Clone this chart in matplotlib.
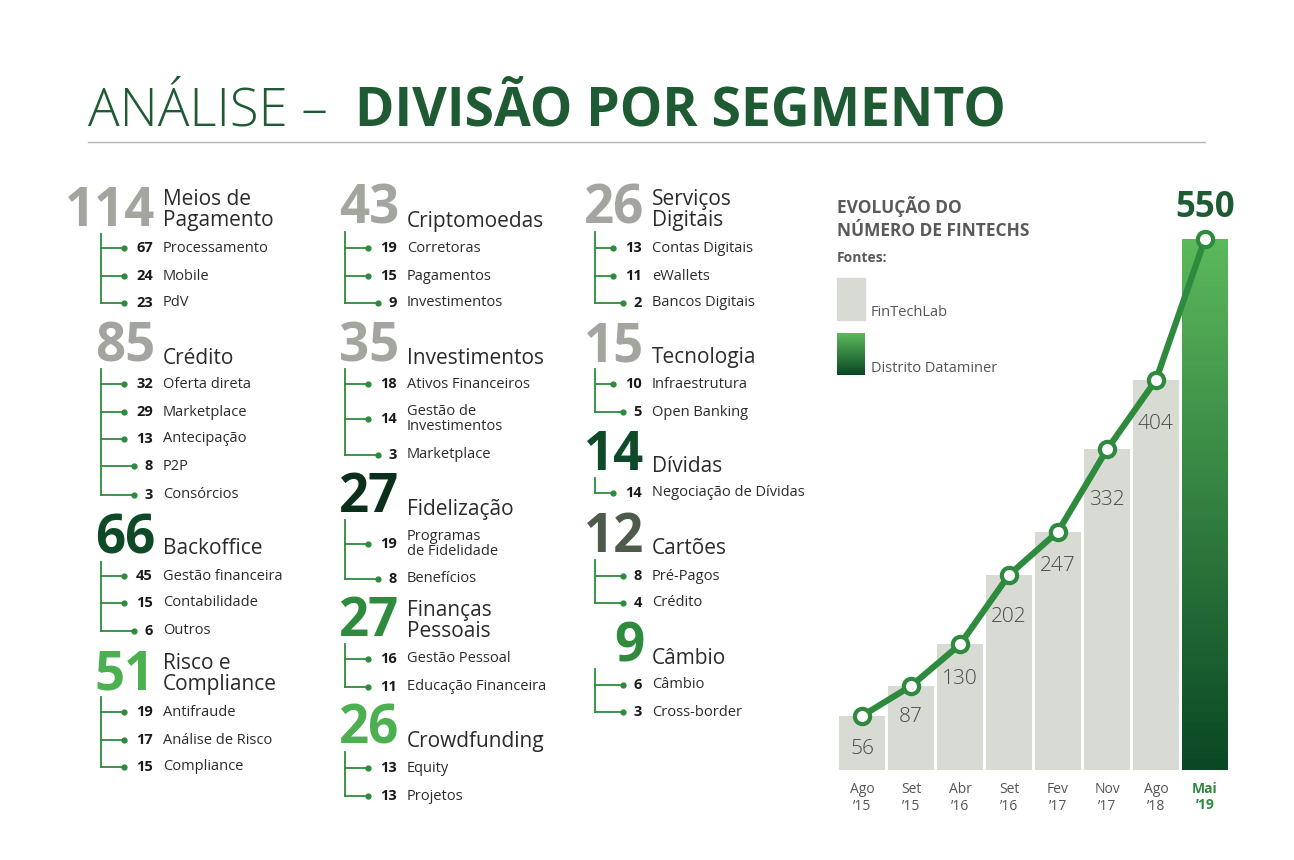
import numpy as np
import matplotlib.pyplot as plt
from matplotlib.colors import LinearSegmentedColormap
from matplotlib.patches import Rectangle

plt.rcParams['font.family'] = 'Open Sans'

# ---- data ----
periods = ["Ago\n\u201915", "Set\n\u201915", "Abr\n\u201916", "Set\n\u201916",
           "Fev\n\u201917", "Nov\n\u201917", "Ago\n\u201918", "Mai\n\u201919"]
fintechs = [56, 87, 130, 202, 247, 332, 404, 550]

seg_totals = [114, 85, 66, 51, 43, 35, 27, 27, 26, 26, 15, 14, 12, 9]
seg_titles = ["Meios de\nPagamento", "Crédito", "Backoffice", "Risco e\nCompliance",
              "Criptomoedas", "Investimentos", "Fidelização", "Finanças\nPessoais",
              "Crowdfunding", "Serviços\nDigitais", "Tecnologia", "Dívidas",
              "Cartões", "Câmbio"]
seg_items = [
    [(67, "Processamento"), (24, "Mobile"), (23, "PdV")],
    [(32, "Oferta direta"), (29, "Marketplace"), (13, "Antecipação"), (8, "P2P"), (3, "Consórcios")],
    [(45, "Gestão financeira"), (15, "Contabilidade"), (6, "Outros")],
    [(19, "Antifraude"), (17, "Análise de Risco"), (15, "Compliance")],
    [(19, "Corretoras"), (15, "Pagamentos"), (9, "Investimentos")],
    [(18, "Ativos Financeiros"), (14, "Gestão de\nInvestimentos"), (3, "Marketplace")],
    [(19, "Programas\nde Fidelidade"), (8, "Benefícios")],
    [(16, "Gestão Pessoal"), (11, "Educação Financeira")],
    [(13, "Equity"), (13, "Projetos")],
    [(13, "Contas Digitais"), (11, "eWallets"), (2, "Bancos Digitais")],
    [(10, "Infraestrutura"), (5, "Open Banking")],
    [(14, "Negociação de Dívidas")],
    [(8, "Pré-Pagos"), (4, "Crédito")],
    [(6, "Câmbio"), (3, "Cross-border")],
]

GRAY_N, DARK, MID, LIGHT, OLIVE = '#a3a69f', '#0f4a28', '#2e8b3e', '#4cb050', '#4e5a4a'
num_colors = [GRAY_N, GRAY_N, DARK, LIGHT, GRAY_N, GRAY_N, '#0c2f1c', MID, LIGHT,
              GRAY_N, GRAY_N, DARK, OLIVE, MID]

# layout: column (tree x, number right edge), number y, title y, item ys
cols = {0: (101, 153), 1: (345, 397), 2: (595, 642)}
layout = [
    (0, 212, 210, [248, 276, 303]),
    (0, 347, 358, [384, 412, 439, 466, 495]),
    (0, 540, 549, [576, 603, 631]),
    (0, 675, 674, [712, 740, 767]),
    (1, 210, 222, [248, 276, 303]),
    (1, 347, 358, [384, 419, 455]),
    (1, 498, 510, [544, 579]),
    (1, 622, 621, [659, 687]),
    (1, 730, 742, [768, 796]),
    (2, 210, 210, [248, 276, 303]),
    (2, 347, 358, [384, 412]),
    (2, 456, 467, [493]),
    (2, 538, 549, [576, 603]),
    (2, 647, 658, [685, 712]),
]
label_drop = [34, 32, 36, 44, 36, 52, 46]

fig = plt.figure(figsize=(12.94, 8.6), dpi=100)
bg = fig.add_axes([0, 0, 1, 1])
bg.set_xlim(0, 1294)
bg.set_ylim(860, 0)
bg.axis('off')

TXT = '#2b2b2b'
bg.text(88, 125, "ANÁLISE –", fontsize=38, color='#1e5a32', fontweight='light', va='baseline')
bg.text(355, 125, "DIVISÃO POR SEGMENTO", fontsize=38.5, color='#1e5a32',
        fontweight='bold', va='baseline')
bg.plot([88, 1205], [142, 142], color='#b5b5b5', lw=1)

for k, (c, ny, ty, iys) in enumerate(layout):
    tx, nx = cols[c]
    bg.text(nx + 2, ny, str(seg_totals[k]), fontsize=38, fontweight='bold',
            color=num_colors[k], ha='right', va='center')
    bg.text(nx + 10, ty, seg_titles[k], fontsize=15, color=TXT, va='center',
            linespacing=1.05)
    bg.plot([tx, tx], [ny + 22, iys[-1]], color=MID, lw=1.3)
    for (v, lab), iy in zip(seg_items[k], iys):
        dx = nx - 10 - 9.5 * len(str(v))
        bg.plot([tx, dx], [iy, iy], color=MID, lw=1.3)
        bg.plot(dx, iy, 'o', color=MID, ms=3.5)
        bg.text(nx, iy, str(v), fontsize=10.5, fontweight='bold', color='#1a1a1a',
                ha='right', va='center')
        bg.text(nx + 10, iy, lab, fontsize=10.5, color=TXT, va='center',
                linespacing=1.0)

# legend
bg.text(837, 218, "EVOLUÇÃO DO\nNÚMERO DE FINTECHS", fontsize=12.5, fontweight='bold',
        color='#5a5a5a', va='center', linespacing=1.3)
bg.text(837, 258, "Fontes:", fontsize=10, fontweight='bold', color='#5a5a5a', va='center')
bg.add_patch(Rectangle((837, 278), 28, 42, color='#d8dbd3'))
bg.text(871, 313, "FinTechLab", fontsize=10.5, color='#555555', va='center')
cmap = LinearSegmentedColormap.from_list('g', ['#5cb85c', '#0a4824'])
grad = np.linspace(0, 1, 100).reshape(-1, 1)
bg.imshow(grad, cmap=cmap, extent=(837, 865, 375, 333), aspect='auto', zorder=2)
bg.text(871, 369, "Distrito Dataminer", fontsize=10.5, color='#555555', va='center')

# bar chart
ax = fig.add_axes([837.5 / 1294, 90 / 860, 392 / 1294, 531 / 860])
x = np.arange(len(fintechs))
ax.bar(x[:-1], fintechs[:-1], width=0.92, color='#d8dbd3')
last = Rectangle((x[-1] - 0.46, 0), 0.92, fintechs[-1], facecolor='none', edgecolor='none')
ax.add_patch(last)
im = ax.imshow(grad, cmap=cmap, extent=(x[-1] - 0.46, x[-1] + 0.46, 0, fintechs[-1]),
               aspect='auto', zorder=1)
im.set_clip_path(last)
ax.set_xlim(-0.5, 7.5)
ax.set_ylim(0, 550)
ax.axis('off')
ax.plot(x, fintechs, color=MID, lw=4.5, zorder=3, clip_on=False)
ax.plot(x, fintechs, 'o', ms=11, mfc='white', mec=MID, mew=3, zorder=4, clip_on=False)
for xi, v, d in zip(x[:-1], fintechs[:-1], label_drop):
    ax.text(xi, v - d, str(v), ha='center', va='center', fontsize=15,
            fontweight='light', color='#4a4a4a')
ax.text(x[-1], fintechs[-1] + 32, str(fintechs[-1]), ha='center', va='center',
        fontsize=25, fontweight='bold', color='#1e5a32')
for xi, p in zip(x, periods):
    last_p = xi == x[-1]
    ax.text(xi, -12, p, ha='center', va='top', fontsize=10, linespacing=1.2,
            color=MID if last_p else '#555555', fontweight='bold' if last_p else 'normal')

fig.savefig('out.png', dpi=100)
